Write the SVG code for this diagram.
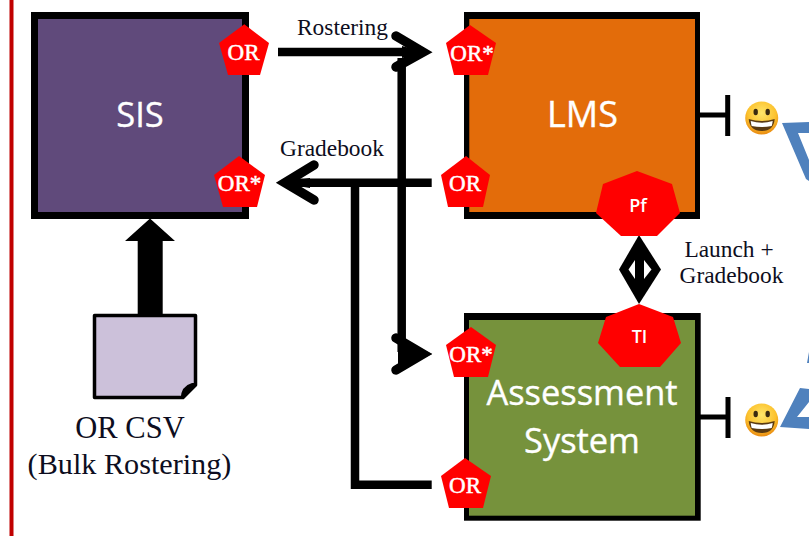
<svg xmlns="http://www.w3.org/2000/svg" width="809" height="536" viewBox="0 0 809 536">
<style>
.serif{font-family:"Liberation Serif","Times New Roman",serif;fill:#0d0d20}
.t23{font-size:23.4px}
.box{font-family:"Open Sans","Noto Sans",sans-serif;fill:#fff;stroke:#fff;stroke-width:.35;text-anchor:middle}
.port{font-family:"Liberation Serif",serif;fill:#fff;stroke:#fff;stroke-width:.5;font-size:23px;text-anchor:middle}
.small{font-family:"Open Sans","Noto Sans",sans-serif;fill:#fff;font-size:18px;font-weight:600;text-anchor:middle}
.red{fill:#ff0000}
.line{fill:none;stroke:#000;stroke-width:8.5}
.head{fill:none;stroke:#000;stroke-width:9.5;stroke-linecap:round;stroke-linejoin:miter;stroke-miterlimit:10}
.tee{fill:none;stroke:#000;stroke-width:5}
.blue{fill:#4f81bd}
.eye{fill:#3a2a10}
</style>
<defs>
<radialGradient id="sm" cx="50%" cy="35%" r="65%"><stop offset="0" stop-color="#ffe66a"/><stop offset="0.65" stop-color="#fcc22e"/><stop offset="1" stop-color="#e98a10"/></radialGradient>
<g id="smiley">
<circle r="16.5" fill="url(#sm)"/>
<ellipse class="eye" cx="-6" cy="-6" rx="2.2" ry="3.2"/>
<ellipse class="eye" cx="6" cy="-6" rx="2.2" ry="3.2"/>
<path d="M-13,1 Q0,5 13,1 Q12,13 0,13 Q-12,13 -13,1Z" fill="#5a3a12"/>
<path d="M-11,3 Q0,6.5 11,3 Q10.5,7 10,8 Q0,10 -10,8 Q-10.5,7 -11,3Z" fill="#fff"/>
</g>
</defs>
<rect width="809" height="536" fill="#fff"/>
<rect x="9.5" y="0" width="4" height="536" fill="#c00000"/>
<polygon class="blue" points="782,123 809,122 809,133 798,133 809,160 809,181 806,179"/>
<polygon class="blue" points="807,363 809,352 809,363"/>
<polygon class="blue" points="780,427 800,388 809,389 809,402 797,417 809,417 809,429"/>

<g id="connectors">
<path class="line" d="M278,52H420"/>
<path class="head" d="M396,36L423,52L396,67"/>
<polygon points="402,46 424,52 402,58" fill="#000"/>
<path class="line" d="M401.700,58V352"/>
<polygon points="398,338 432,354 398,370" fill="#000"/>
<path class="head" d="M396,338L423,354L396,370"/>
<path class="line" d="M431.700,182.700H290"/>
<path class="head" d="M314,165L285,182.700L314,200"/>
<polygon points="310,178 278,182.700 310,188" fill="#000"/>
<path class="line" d="M355,182.700V484.700H431.700"/>
<path d="M137.700,320V241H125L150,218.500L175,241H162.700V320Z" fill="#000"/>
<path class="tee" d="M700,115H727.700M727.700,95V136"/>
<path class="tee" d="M700,417H728M728,397V438"/>
<polygon points="639,235 661,269.500 639,304 619,269.500" fill="#000"/>
<polygon points="635,260 635,279 628.500,269.500" fill="#fff"/>
<polygon points="644,260 644,279 651.500,269.500" fill="#fff"/>
</g>

<g id="sis">
<rect x="31" y="12" width="218" height="207" fill="#000"/>
<rect x="38" y="19" width="204" height="193" fill="#604a7b"/>
<text class="box" x="140" y="127" font-size="34.500">SIS</text>
</g>
<g id="sis-or">
<polygon class="red" points="244.300,24.300 269,43 260,75 228,75 219,43"/>
<text class="port" x="243.500" y="60">OR</text>
</g>
<g id="sis-or-star">
<polygon class="red" points="239,156 265,175 257,207 223,207 214,175"/>
<text class="port" x="239.500" y="190.500">OR*</text>
</g>

<g id="lms">
<rect x="464" y="12" width="236" height="207" fill="#000"/>
<rect x="469.300" y="19" width="225.700" height="193" fill="#e36c0a"/>
<text class="box" x="582.500" y="127" font-size="36">LMS</text>
</g>
<g id="lms-or-star">
<polygon class="red" points="470,25 496,43 488,75 454,75 446,43"/>
<text class="port" x="472" y="60.500">OR*</text>
</g>
<g id="lms-or">
<polygon class="red" points="466,156 490,175 483,207 448,207 441,175"/>
<text class="port" x="465" y="190.500">OR</text>
</g>
<g id="pf">
<polygon class="red" points="637,171 672,184 680,213 657,236 621,236 596,213 603,184"/>
<text class="small" x="638" y="211.500">Pf</text>
</g>

<g id="assessment">
<rect x="464" y="313" width="236.700" height="207.700" fill="#000"/>
<rect x="469" y="320" width="226" height="195.700" fill="#76923c"/>
<text class="box" x="582" y="405" font-size="34.400">Assessment</text>
<text class="box" x="582" y="453" font-size="34.400">System</text>
</g>
<g id="assessment-or-star">
<polygon class="red" points="471,327 496,345 488,377 454,377 446,345"/>
<text class="port" x="471" y="362">OR*</text>
</g>
<g id="assessment-or">
<polygon class="red" points="465,458 491,476 483,508 449,508 441,476"/>
<text class="port" x="465" y="493">OR</text>
</g>
<g id="ti">
<polygon class="red" points="639,304 673,317 681,343 660,367 620,367 598,343 606,317"/>
<text class="small" x="639.500" y="343">TI</text>
</g>

<g id="csv">
<path d="M94.500,315.500H195.500V385L183,397.500H94.500Z" fill="#ccc1da" stroke="#000" stroke-width="3.500" stroke-linejoin="round"/>
<path d="M197,383L183,399H180.500Q181,386 192,383Z" fill="#000"/>
<text class="serif" x="130" y="437.500" font-size="30.500" text-anchor="middle">OR CSV</text>
<text class="serif" x="129.500" y="473.500" font-size="30.200" text-anchor="middle">(Bulk Rostering)</text>
</g>

<g id="labels">
<text class="serif t23" x="297" y="35">Rostering</text>
<text class="serif t23" x="280" y="155.700">Gradebook</text>
<text class="serif t23" x="729" y="256.700" text-anchor="middle">Launch +</text>
<text class="serif t23" x="731.500" y="283" text-anchor="middle">Gradebook</text>
</g>

<g id="smiley-lms"><use href="#smiley" x="761.700" y="118"/></g>
<g id="smiley-assessment"><use href="#smiley" x="761.700" y="420"/></g>
</svg>
